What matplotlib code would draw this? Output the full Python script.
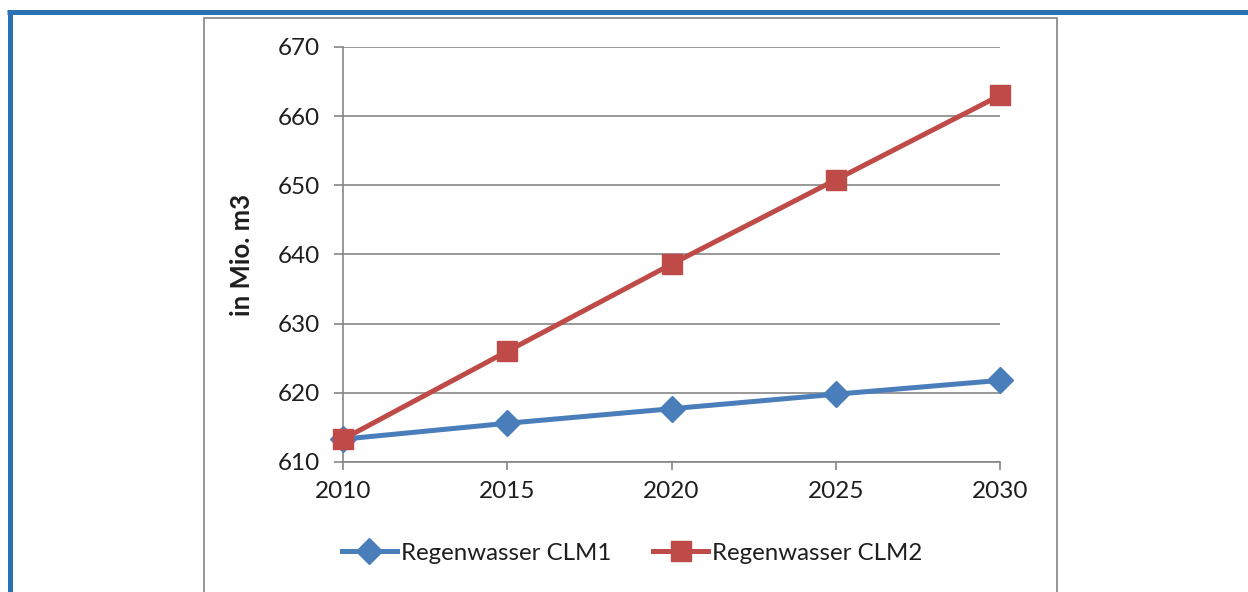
import matplotlib.pyplot as plt
from matplotlib.lines import Line2D
from matplotlib.patches import Rectangle

# Data: Regenwasser in Mio. m3
years = [2010, 2015, 2020, 2025, 2030]
clm1 = [613.3, 615.6, 617.7, 619.8, 621.8]
clm2 = [613.3, 626.0, 638.6, 650.8, 663.0]
y_ticks = [610, 620, 630, 640, 650, 660, 670]

# Styling
BLUE = "#4A7EBB"
RED = "#BE4B48"
GRID = "#868686"
FRAME = "#2A72B4"
TEXT = "#1E1E1E"
FONT = "Lato"

W, H = 1248, 592
fig = plt.figure(figsize=(W / 100, H / 100), dpi=100, facecolor="white")

# Outer blue frame (left and top only) and grey chart box
fig.add_artist(Line2D([9.5 / W, 9.5 / W], [0, 1 - 10 / H], color=FRAME, lw=3.6,
                      transform=fig.transFigure, solid_capstyle="butt"))
fig.add_artist(Line2D([7 / W, 1], [1 - 12 / H, 1 - 12 / H], color=FRAME, lw=3.6,
                      transform=fig.transFigure, solid_capstyle="butt"))
fig.add_artist(Rectangle((203.5 / W, -0.05), (1057 - 203.5) / W, 1.05 - 17.5 / H,
                         transform=fig.transFigure, fill=False, edgecolor="#8C8C8C", lw=1.3))

ax = fig.add_axes([343 / W, 130 / H, 657 / W, 415 / H])
ax.set_facecolor("none")

ax.plot(years, clm1, color=BLUE, lw=3.6, marker="D", markersize=13,
        label="Regenwasser CLM1", zorder=3, clip_on=False)
ax.plot(years, clm2, color=RED, lw=3.6, marker="s", markersize=14.5,
        label="Regenwasser CLM2", zorder=4, clip_on=False)

ax.set_xlim(2010, 2030)
ax.set_ylim(610, 670)
ax.set_xticks(years)
ax.set_yticks(y_ticks)
ax.grid(axis="y", color=GRID, lw=1.2)
ax.set_axisbelow(True)

for side in ["top", "right"]:
    ax.spines[side].set_visible(False)
for side in ["left", "bottom"]:
    ax.spines[side].set_color(GRID)
    ax.spines[side].set_linewidth(1.2)

ax.tick_params(axis="both", direction="out", color=GRID, width=1.2,
               labelsize=17.5, labelcolor=TEXT)
ax.tick_params(axis="y", length=6.5, pad=10)
ax.tick_params(axis="x", length=6, pad=8)
for lbl in ax.get_xticklabels() + ax.get_yticklabels():
    lbl.set_fontfamily(FONT)

ax.set_ylabel("in Mio. m3", fontsize=18.5, fontweight="bold", color=TEXT, family=FONT)
ax.yaxis.set_label_coords(-0.1355, 0.5)

fig.legend(loc="center", bbox_to_anchor=(632 / W, 1 - 553 / H), ncol=2, frameon=False,
           prop={"family": FONT, "size": 17.3}, handlelength=2.3, handletextpad=0.15,
           columnspacing=1.75, labelcolor=TEXT)

plt.savefig("out.png", dpi=100, facecolor="white")
